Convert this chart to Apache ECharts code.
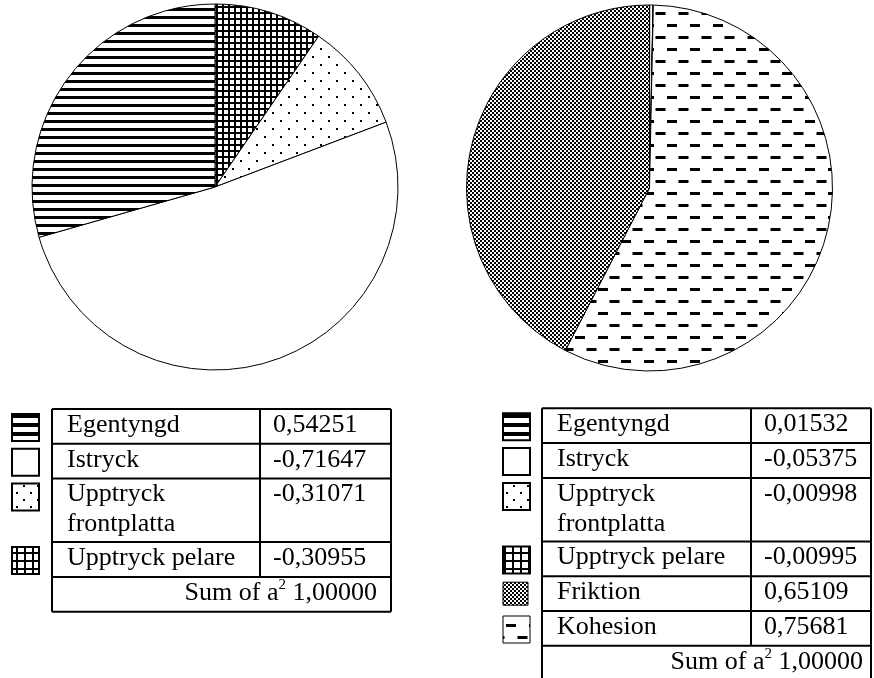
<!DOCTYPE html>
<html>
<head>
<meta charset="utf-8">
<script src="https://cdn.jsdelivr.net/npm/echarts@6/dist/echarts.min.js"></script>
<style>
  html, body { margin: 0; padding: 0; background: #fff; }
  #chart { width: 874px; height: 678px; }
</style>
</head>
<body>
<div id="chart"></div>
<script>
// Load cases and their coefficients a; each slice is drawn with size a².
const leftNames = ['Egentyngd', 'Istryck', 'Upptryck\nfrontplatta', 'Upptryck pelare'];
const leftCoef = [0.54251, -0.71647, -0.31071, -0.30955];
const leftFills = ['hlines', 'blank', 'dots', 'grid'];

const rightNames = ['Egentyngd', 'Istryck', 'Upptryck\nfrontplatta', 'Upptryck pelare', 'Friktion', 'Kohesion'];
const rightCoef = [0.01532, -0.05375, -0.00998, -0.00995, 0.65109, 0.75681];
const rightFills = ['hlines', 'blank', 'dots', 'grid', 'checker', 'dashes'];

// Stated total of a² for each table
const sumLabel = '1,00000';

// Slice order, clockwise from 12 o'clock (indices into the arrays above)
const leftSliceOrder = [3, 2, 1, 0];
const rightSliceOrder = [3, 2, 1, 0, 5, 4];

const FONT_FAMILY = 'Liberation Serif';

// ---- hatch tiles ----
function makeTile(w, h, draw) {
  const c = document.createElement('canvas');
  c.width = w; c.height = h;
  const g = c.getContext('2d');
  g.fillStyle = '#fff'; g.fillRect(0, 0, w, h);
  g.fillStyle = '#000';
  draw(g);
  return c;
}
const sliceTiles = {
  hlines: makeTile(8, 8, g => g.fillRect(0, 0, 8, 3)),
  dots: makeTile(16, 16, g => { g.fillRect(0, 0, 2, 2); g.fillRect(8, 8, 2, 2); }),
  grid: makeTile(6, 6, g => { g.fillRect(0, 0, 6, 2); g.fillRect(0, 0, 2, 6); }),
  checker: makeTile(4, 4, g => { g.fillRect(0, 0, 2, 2); g.fillRect(2, 2, 2, 2); }),
  dashes: makeTile(23, 24, g => { g.fillRect(0, 0, 10, 3); g.fillRect(11.5, 12, 10, 3); })
};
const swatchTiles = {
  hlines: makeTile(9, 9, g => g.fillRect(0, 0, 9, 4)),
  dots: makeTile(14, 14, g => { g.fillRect(2, 2, 2, 2); g.fillRect(9, 9, 2, 2); }),
  grid: makeTile(8, 8, g => { g.fillRect(0, 0, 8, 2); g.fillRect(0, 0, 2, 8); }),
  checker: makeTile(4, 4, g => { g.fillRect(0, 0, 2, 2); g.fillRect(2, 2, 2, 2); }),
  dashes: makeTile(23, 24, g => { g.fillRect(0, 0, 10, 3); g.fillRect(11.5, 12, 10, 3); })
};
function fillOf(tiles, key) {
  if (key === 'blank' || !tiles[key]) return '#fff';
  return { image: tiles[key], repeat: 'repeat' };
}

const fmt = v => v.toFixed(5).replace('.', ',');

function pieSeries(names, coef, fills, order, center) {
  return {
    type: 'pie',
    center: center,
    radius: [0, 183],
    startAngle: 90,
    clockwise: true,
    silent: true,
    animation: false,
    label: { show: false },
    labelLine: { show: false },
    emphasis: { disabled: true },
    itemStyle: { borderColor: '#000', borderWidth: 1 },
    data: order.map(i => ({
      name: names[i].replace('\n', ' '),
      value: coef[i] * coef[i],
      itemStyle: { color: fillOf(sliceTiles, fills[i]) }
    }))
  };
}

// ---- tables ----
const ROW1 = 34.8, ROW2 = 63.5;
function table(names, coef, fills, geom) {
  const els = [];
  let y = geom.top;
  const rowTops = [];
  names.forEach(n => {
    rowTops.push(y);
    y += n.indexOf('\n') >= 0 ? ROW2 : ROW1;
  });
  const sumTop = y;
  const bottom = sumTop + ROW1;
  const line = (x1, y1, x2, y2) => els.push({
    type: 'line', silent: true,
    shape: { x1, y1, x2, y2 },
    style: { stroke: '#000', lineWidth: 2 }
  });
  // outer frame
  line(geom.left, geom.top, geom.right, geom.top);
  line(geom.left, geom.top, geom.left, bottom);
  line(geom.right, geom.top, geom.right, bottom);
  line(geom.left, bottom, geom.right, bottom);
  // row rules and column divider
  rowTops.slice(1).forEach(t => line(geom.left, t, geom.right, t));
  line(geom.left, sumTop, geom.right, sumTop);
  line(geom.mid, geom.top, geom.mid, sumTop);

  const txt = (x, yy, s, extra) => els.push({
    type: 'text', silent: true, x: x, y: yy,
    style: Object.assign({
      text: s, fontFamily: FONT_FAMILY, fontSize: 26, lineHeight: 30,
      fill: '#000', verticalAlign: 'top'
    }, extra || {})
  });

  names.forEach((n, i) => {
    const t = rowTops[i];
    txt(geom.left + 15, t + 1, n);
    txt(geom.mid + 13, t + 1, fmt(coef[i]));
    // key swatch
    const small = fills[i] === 'checker';
    els.push({
      type: 'rect', silent: true,
      shape: small
        ? { x: geom.swX, y: t + 6, width: 25, height: 23 }
        : { x: geom.swX, y: t + 5, width: 27, height: 27 },
      style: {
        fill: fillOf(swatchTiles, fills[i]),
        stroke: '#000',
        lineWidth: fills[i] === 'dashes' || small ? 1 : 2
      }
    });
  });
  txt(geom.right - geom.sumPad, sumTop + 1, 'Sum of a{sup|2} ' + sumLabel, {
    align: 'right',
    rich: { sup: { fontFamily: FONT_FAMILY, fontSize: 15, lineHeight: 30, verticalAlign: 'top', fill: '#000' } }
  });
  return els;
}

const chart = echarts.init(document.getElementById('chart'), null, { renderer: 'canvas' });
chart.setOption({
  backgroundColor: '#fff',
  animation: false,
  series: [
    pieSeries(leftNames, leftCoef, leftFills, leftSliceOrder, [215, 187]),
    pieSeries(rightNames, rightCoef, rightFills, rightSliceOrder, [649.5, 188])
  ],
  graphic: [].concat(
    table(leftNames, leftCoef, leftFills, { left: 52, mid: 260, right: 391, top: 409, swX: 12, sumPad: 14 }),
    table(rightNames, rightCoef, rightFills, { left: 542, mid: 751, right: 871, top: 408.3, swX: 503, sumPad: 8 })
  )
});
</script>
</body>
</html>
